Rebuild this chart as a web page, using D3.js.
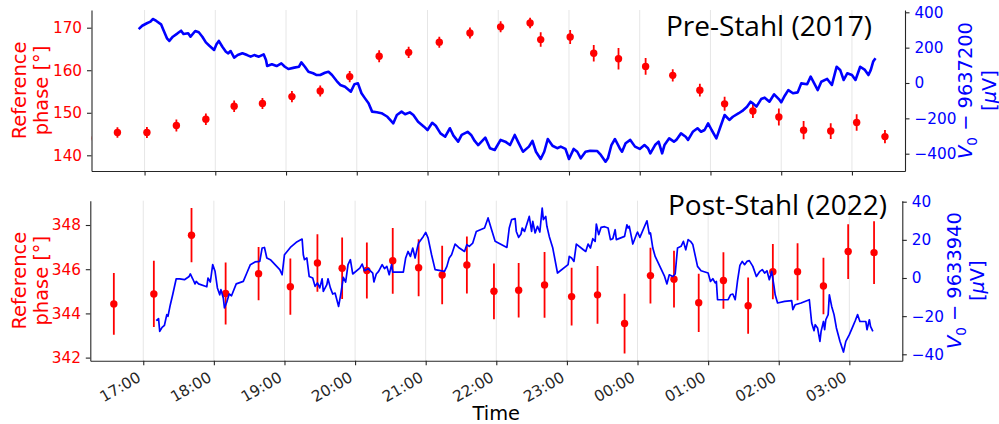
<!DOCTYPE html>
<html>
<head>
<meta charset="utf-8">
<script src="https://cdn.jsdelivr.net/npm/d3@7"></script>
<style>
  body { margin: 0; background: #fff; }
  svg { display: block; font-family: "DejaVu Sans", sans-serif; }
</style>
</head>
<body>
<svg id="chart" width="999" height="424"></svg>
<script>
// ---- data ----
const hourTicks = ["17:00", "18:00", "19:00", "20:00", "21:00", "22:00", "23:00", "00:00", "01:00", "02:00", "03:00"];
const timeSpan = ["16:15", "03:45"];

// Pre-Stahl (2017): reference phase with error bars
const preTimes = ["16:12", "16:37", "17:02", "17:27", "17:52", "18:16", "18:40", "19:05", "19:29", "19:54",
  "20:19", "20:44", "21:10", "21:36", "22:02", "22:27", "22:36", "23:01", "23:21", "23:42",
  "00:05", "00:28", "00:51", "01:12", "01:36", "01:58", "02:19", "02:42", "03:04", "03:28"];
const prePhase = [144.0, 145.35, 145.35, 147.0, 148.5, 151.55, 152.2, 153.8, 155.1, 158.5,
  163.3, 164.2, 166.6, 168.75, 170.2, 171.1, 167.2, 167.8, 164.0, 162.7,
  160.9, 158.8, 155.3, 152.1, 150.4, 149.0, 145.9, 145.7, 147.7, 144.4];
const preErr = [1.3, 1.25, 1.3, 1.4, 1.35, 1.35, 1.3, 1.3, 1.3, 1.3,
  1.4, 1.3, 1.3, 1.3, 1.3, 1.25, 1.7, 1.65, 1.95, 2.5,
  1.95, 1.45, 1.5, 1.65, 1.65, 2.0, 2.15, 1.85, 1.95, 1.55];

// Pre-Stahl (2017): V0 - 9637200 in uV
const preVTimes = ["16:55", "16:58", "17:02", "17:05", "17:07", "17:10", "17:14", "17:16", "17:19", "17:21",
  "17:24", "17:28", "17:31", "17:33", "17:37", "17:39", "17:43", "17:46", "17:49", "17:52",
  "17:55", "17:59", "18:01", "18:03", "18:06", "18:09", "18:11", "18:13", "18:16", "18:19",
  "18:23", "18:27", "18:30", "18:33", "18:37", "18:41", "18:43", "18:44", "18:48", "18:52",
  "18:56", "18:59", "19:02", "19:07", "19:11", "19:13", "19:16", "19:19", "19:23", "19:26",
  "19:29", "19:33", "19:36", "19:39", "19:43", "19:46", "19:50", "19:55", "19:58", "20:01",
  "20:04", "20:07", "20:10", "20:13", "20:17", "20:21", "20:26", "20:31", "20:34", "20:38",
  "20:41", "20:45", "20:48", "20:52", "20:57", "21:00", "21:04", "21:07", "21:11", "21:15",
  "21:19", "21:22", "21:26", "21:29", "21:34", "21:37", "21:40", "21:43", "21:49", "21:53",
  "21:57", "22:02", "22:06", "22:10", "22:14", "22:17", "22:21", "22:26", "22:29", "22:32",
  "22:36", "22:39", "22:42", "22:46", "22:50", "22:53", "22:57", "23:00", "23:04", "23:07",
  "23:10", "23:14", "23:18", "23:24", "23:27", "23:31", "23:33", "23:36", "23:39", "23:43",
  "23:45", "23:48", "23:52", "23:56", "00:00", "00:04", "00:07", "00:09", "00:13", "00:16",
  "00:19", "00:21", "00:25", "00:29", "00:31", "00:35", "00:39", "00:41", "00:45", "00:49",
  "00:52", "00:55", "00:58", "01:01", "01:05", "01:08", "01:12", "01:16", "01:19", "01:24",
  "01:27", "01:31", "01:34", "01:36", "01:39", "01:43", "01:46", "01:50", "01:54", "01:58",
  "02:00", "02:03", "02:06", "02:10", "02:14", "02:17", "02:22", "02:25", "02:28", "02:31",
  "02:34", "02:39", "02:43", "02:47", "02:50", "02:53", "02:56", "03:00", "03:03", "03:07",
  "03:11", "03:14", "03:16", "03:18", "03:20"];
const preV = [305, 324, 338, 347, 362, 351, 332, 300, 253, 238,
  262, 281, 296, 277, 281, 262, 294, 287, 262, 230,
  211, 187, 219, 238, 205, 177, 168, 181, 143, 158,
  168, 158, 149, 158, 149, 162, 130, 96, 106, 96,
  111, 92, 79, 87, 92, 117, 92, 64, 55, 45,
  45, 58, 64, 45, 11, -11, -21, -49, -7, -2,
  -58, -87, -115, -162, -166, -171, -191, -228, -181, -162,
  -177, -166, -181, -219, -247, -266, -225, -242, -285, -304,
  -256, -298, -332, -294, -276, -294, -328, -351, -309, -369,
  -379, -322, -332, -351, -294, -336, -389, -360, -328, -389,
  -430, -389, -317, -355, -369, -360, -373, -430, -373, -389,
  -426, -389, -383, -385, -407, -445, -426, -351, -317, -369,
  -389, -341, -322, -360, -373, -351, -369, -398, -351, -332,
  -398, -351, -313, -332, -322, -285, -304, -322, -276, -256,
  -276, -266, -228, -266, -313, -256, -181, -209, -191, -171,
  -158, -134, -106, -115, -134, -91, -83, -106, -64, -91,
  -109, -72, -40, -58, -53, -2, -7, 36, -2, -40,
  7, 23, -11, 92, 74, 17, 55, 45, 17, 92,
  74, 45, 74, 121, 140];

// Post-Stahl (2022): reference phase with error bars
const postTimes = ["16:35", "17:09", "17:41", "18:10", "18:38", "19:05", "19:28", "19:49", "20:10", "20:32",
  "20:54", "21:14", "21:35", "21:58", "22:19", "22:41", "23:04", "23:26", "23:49", "00:11",
  "00:31", "00:52", "01:13", "01:34", "01:55", "02:16", "02:38", "02:59", "03:21"];
const postPhase = [344.43, 344.88, 347.54, 344.9, 345.8, 345.21, 346.28, 346.04, 345.94, 346.38,
  346.07, 345.74, 346.19, 345.0, 345.05, 345.29, 344.76, 344.84, 343.54, 345.71,
  345.55, 344.48, 345.49, 344.35, 345.89, 345.89, 345.24, 346.8, 346.75];
const postErr = [1.4, 1.5, 1.23, 1.4, 1.2, 1.27, 1.3, 1.39, 1.27, 1.49,
  1.29, 1.32, 1.29, 1.26, 1.23, 1.49, 1.31, 1.31, 1.35, 1.26,
  1.28, 1.32, 1.28, 1.27, 1.25, 1.29, 1.28, 1.24, 1.42];

// Post-Stahl (2022): V0 - 9633940 in uV
const postVTimes = ["17:11", "17:13", "17:14", "17:16", "17:18", "17:20", "17:21", "17:23", "17:25", "17:28",
  "17:31", "17:35", "17:39", "17:40", "17:42", "17:44", "17:45", "17:47", "17:54", "17:55",
  "17:57", "17:59", "18:01", "18:03", "18:05", "18:06", "18:08", "18:09", "18:11", "18:13",
  "18:15", "18:19", "18:25", "18:28", "18:31", "18:35", "18:39", "18:41", "18:43", "18:45",
  "18:48", "18:52", "18:56", "18:58", "19:00", "19:05", "19:10", "19:15", "19:16", "19:17",
  "19:19", "19:21", "19:24", "19:26", "19:28", "19:30", "19:32", "19:33", "19:36", "19:37",
  "19:39", "19:41", "19:43", "19:46", "19:48", "19:50", "19:52", "19:54", "19:56", "19:58",
  "20:04", "20:06", "20:08", "20:11", "20:15", "20:16", "20:18", "20:20", "20:23", "20:25",
  "20:27", "20:29", "20:31", "20:32", "20:41", "20:43", "20:45", "20:47", "20:49", "20:51",
  "20:53", "20:54", "20:58", "21:00", "21:02", "21:05", "21:08", "21:16", "21:18", "21:20",
  "21:22", "21:25", "21:28", "21:33", "21:35", "21:37", "21:40", "21:43", "21:50", "21:53",
  "21:56", "21:59", "22:09", "22:11", "22:13", "22:16", "22:17", "22:19", "22:21", "22:22",
  "22:24", "22:28", "22:30", "22:31", "22:33", "22:35", "22:37", "22:39", "22:40", "22:42",
  "22:43", "22:45", "22:48", "22:52", "23:01", "23:02", "23:04", "23:06", "23:08", "23:14",
  "23:16", "23:18", "23:20", "23:22", "23:24", "23:25", "23:27", "23:29", "23:32", "23:35",
  "23:37", "23:39", "23:41", "23:42", "23:49", "23:51", "23:52", "23:53", "23:55", "23:56",
  "23:59", "00:00", "00:02", "00:08", "00:10", "00:11", "00:13", "00:15", "00:19", "00:23",
  "00:25", "00:27", "00:30", "00:32", "00:34", "00:37", "00:39", "00:41", "00:43", "00:45",
  "00:47", "00:51", "00:54", "01:00", "01:02", "01:04", "01:06", "01:07", "01:08", "01:17",
  "01:19", "01:21", "01:23", "01:25", "01:27", "01:29", "01:31", "01:33", "01:35", "01:38",
  "01:41", "01:44", "01:46", "01:48", "01:50", "01:52", "01:54", "01:56", "01:57", "01:59",
  "02:05", "02:11", "02:12", "02:14", "02:19", "02:26", "02:28", "02:30", "02:31", "02:33",
  "02:35", "02:36", "02:38", "02:39", "02:40", "02:42", "02:43", "02:45", "02:47", "02:49",
  "02:52", "02:55", "02:57", "03:00", "03:03", "03:05", "03:07", "03:09", "03:12", "03:14",
  "03:15", "03:17", "03:18", "03:20"];
const postV = [-22.4, -21.3, -28.0, -25.9, -24.8, -19.2, -20.1, -14.0, -8.8, -0.4,
  -0.5, -0.9, 0.8, 2.1, -0.4, -3.1, -1.8, -3.1, -4.6, 0,
  -2.1, 7.0, 3.5, -5.2, -8.8, -6.1, -10.5, -15.7, -12.6, -8.4,
  -9.3, -3.1, -1.8, 2.6, 7.0, 8.4, 8.7, 15.7, 16.0, 10.5,
  9.6, 7.0, 4.4, 1.7, 12.2, 16.0, 18.7, 20.4, 12.2, 9.6,
  10.5, 0.8, 0, -4.4, -2.6, -5.2, -0.4, -7.0, -3.5, -0.4,
  -5.2, -8.4, -7.9, -14.9, -7.9, 0.3, -2.1, 7.0, 9.6, 2.1,
  5.2, 7.3, 3.8, 4.9, 2.6, -2.1, 2.1, 3.5, 7.0, 4.9,
  6.1, 1.7, 7.0, 3.1, 3.1, 10.5, 13.9, 11.3, 15.7, 10.5,
  16.0, 18.3, 21.8, 23.9, 21.0, 12.2, 4.4, 3.5, 6.1, 10.5,
  12.2, 17.8, 16.0, 13.9, 17.5, 16.6, 18.3, 24.4, 26.2, 31.5,
  25.3, 19.2, 16.0, 26.2, 30.6, 31.1, 24.4, 21.3, 23.1, 26.2,
  24.4, 32.3, 24.4, 29.7, 23.6, 27.1, 24.1, 36.7, 30.6, 32.3,
  27.1, 21.8, 15.7, 2.6, 7.0, 11.3, 10.5, 8.7, 17.8, 14.8,
  13.9, 17.8, 15.7, 20.6, 19.2, 28.3, 22.7, 26.5, 26.9, 26.2,
  20.1, 20.6, 25.3, 20.1, 21.8, 27.9, 26.2, 27.1, 21.0, 17.8,
  22.7, 24.1, 21.3, 30.0, 23.1, 23.6, 15.7, 11.3, 6.1, 0.8,
  -3.1, 1.7, 0.8, 2.1, 15.7, 16.6, 19.2, 14.8, 20.1, 19.2,
  17.5, 6.1, 3.8, 2.6, -1.8, -0.4, -2.6, -1.8, -11.4, -11.4,
  -8.8, -8.4, -11.4, -1.4, 6.6, 8.7, 7.0, 8.7, 9.1, 6.1,
  0.8, 3.5, 4.4, 2.6, 3.8, -0.9, 3.5, -4.4, -8.8, -13.1,
  -12.3, -11.9, -16.6, -14.0, -13.1, -11.4, -23.6, -27.6, -24.5, -26.2,
  -33.2, -28.0, -22.8, -27.1, -21.9, -19.2, -8.8, -14.9, -19.2, -26.2,
  -33.2, -38.8, -33.2, -29.7, -25.4, -22.4, -19.2, -22.8, -22.8, -22.8,
  -27.1, -21.9, -25.4, -28.0];

const preTicks = [140, 150, 160, 170];
const preVTicks = [-400, -200, 0, 200, 400];
const postTicks = [342, 344, 346, 348];
const postVTicks = [-40, -20, 0, 20, 40];

// ---- helpers ----
// clock strings: evening hours belong to day 1, early morning hours to day 2
const clock = s => {
  const [h, m] = s.split(":").map(Number);
  return new Date(2000, 0, h < 12 ? 2 : 1, h, m);
};
const minus = d => (d < 0 ? "\u2212" + Math.abs(d) : String(d));

const RED = "#ff0000", BLUE = "#0000ff", INK = "#262626";
const svg = d3.select("#chart");

const panels = [
  {
    key: "pre", top: 10, bottom: 171, left: 91.5, right: 905,
    times: preTimes, phase: prePhase, err: preErr, vTimes: preVTimes, v: preV,
    yDomain: [136.31, 174.16], yTicks: preTicks,
    vDomain: [-497.9, 413], vTicks: preVTicks,
    title: "Pre-Stahl (2017)", titleX: 872, titleY: 36,
    offset: "9637200", rl: [972.3, 995.5], lineW: 2.6, xLabels: false
  },
  {
    key: "post", top: 200.7, bottom: 360.7, left: 90.3, right: 902.3,
    times: postTimes, phase: postPhase, err: postErr, vTimes: postVTimes, v: postV,
    yDomain: [341.86, 349.10], yTicks: postTicks,
    vDomain: [-43.36, 40.52], vTicks: postVTicks,
    title: "Post-Stahl (2022)", titleX: 887, titleY: 214.5,
    offset: "9633940", rl: [961.3, 984], lineW: 1.7, xLabels: true
  }
];

function styleAxis(g, textColor) {
  g.attr("font-size", null).attr("font-family", null);
  g.select(".domain").attr("stroke", INK).attr("stroke-width", 1.1);
  g.selectAll(".tick line").attr("stroke", INK).attr("stroke-width", 1.1);
  g.selectAll(".tick text").attr("fill", textColor).style("font-size", "15.3px");
}

panels.forEach(p => {
  const x = d3.scaleTime().domain(timeSpan.map(clock)).range([p.left, p.right]);
  const y = d3.scaleLinear().domain(p.yDomain).range([p.bottom, p.top]);
  const yv = d3.scaleLinear().domain(p.vDomain).range([p.bottom, p.top]);
  const tickDates = hourTicks.map(clock);

  svg.append("clipPath").attr("id", "clip-" + p.key)
    .append("rect")
    .attr("x", p.left).attr("y", p.top)
    .attr("width", p.right - p.left).attr("height", p.bottom - p.top);

  // vertical grid
  svg.append("g")
    .selectAll("line")
    .data(tickDates)
    .join("line")
      .attr("x1", d => x(d)).attr("x2", d => x(d))
      .attr("y1", p.top).attr("y2", p.bottom)
      .attr("stroke", "#e6e6e6").attr("stroke-width", 1);

  const plot = svg.append("g").attr("clip-path", `url(#clip-${p.key})`);

  const pts = p.times.map((t, i) => ({ t: clock(t), v: p.phase[i], e: p.err[i] }));

  plot.append("g")
    .selectAll("line")
    .data(pts)
    .join("line")
      .attr("x1", d => x(d.t)).attr("x2", d => x(d.t))
      .attr("y1", d => y(d.v - d.e)).attr("y2", d => y(d.v + d.e))
      .attr("stroke", RED).attr("stroke-width", 1.8);

  plot.append("g")
    .selectAll("circle")
    .data(pts)
    .join("circle")
      .attr("cx", d => x(d.t)).attr("cy", d => y(d.v))
      .attr("r", 3.7)
      .attr("fill", RED);

  const series = p.vTimes.map((t, i) => ({ t: clock(t), v: p.v[i] }));
  const line = d3.line().x(d => x(d.t)).y(d => yv(d.v));
  plot.append("path")
    .datum(series)
    .attr("d", line)
    .attr("fill", "none")
    .attr("stroke", BLUE)
    .attr("stroke-width", p.lineW)
    .attr("stroke-linejoin", "round");

  // axes
  const gx = svg.append("g")
    .attr("transform", `translate(0,${p.bottom})`)
    .call(d3.axisBottom(x).tickValues(tickDates).tickSize(4.5).tickSizeOuter(0).tickPadding(4.9)
      .tickFormat(p.xLabels ? d3.timeFormat("%H:%M") : () => ""));
  styleAxis(gx, INK);
  if (p.xLabels) {
    gx.selectAll(".tick text")
      .attr("y", null).attr("dy", null)
      .attr("text-anchor", "end")
      .attr("transform", "translate(-1.8,19.8) rotate(-30)");
  }

  const gl = svg.append("g")
    .attr("transform", `translate(${p.left},0)`)
    .call(d3.axisLeft(y).tickValues(p.yTicks).tickSize(4.5).tickSizeOuter(0).tickPadding(4.9)
      .tickFormat(minus));
  styleAxis(gl, RED);

  const gr = svg.append("g")
    .attr("transform", `translate(${p.right},0)`)
    .call(d3.axisRight(yv).tickValues(p.vTicks).tickSize(4.5).tickSizeOuter(0).tickPadding(4.9)
      .tickFormat(minus));
  styleAxis(gr, BLUE);

  // left label
  const cy = (p.top + p.bottom) / 2;
  const ll = svg.append("text")
    .attr("transform", `translate(0,${cy}) rotate(-90)`)
    .attr("text-anchor", "middle")
    .attr("fill", RED)
    .style("font-size", "19.4px");
  ll.append("tspan").attr("x", 0).attr("y", 25.5).text("Reference");
  ll.append("tspan").attr("x", 0).attr("y", 47.6).text("phase [\u00b0]");

  // right label: V_0 - offset  /  [muV]
  const rl = svg.append("text")
    .attr("transform", `translate(0,${cy}) rotate(-90)`)
    .attr("text-anchor", "middle")
    .attr("fill", BLUE)
    .style("font-size", "19.4px");
  rl.append("tspan").attr("x", 0).attr("y", p.rl[0]).attr("font-style", "italic").text("V");
  rl.append("tspan").attr("dy", 4.2).style("font-size", "13.6px").text("0");
  rl.append("tspan").attr("dy", -4.2).text(" \u2212 " + p.offset);
  rl.append("tspan").attr("x", 0).attr("y", p.rl[1]).text("[");
  rl.append("tspan").attr("font-style", "italic").text("\u03bc");
  rl.append("tspan").text("V]");

  // panel title
  svg.append("text")
    .attr("x", p.titleX).attr("y", p.titleY)
    .attr("text-anchor", "end")
    .attr("fill", "#000")
    .style("font-family", "'Open Sans', sans-serif")
    .style("font-size", "28px")
    .text(p.title);
});

svg.append("text")
  .attr("x", 496.3).attr("y", 420)
  .attr("text-anchor", "middle")
  .attr("fill", "#000")
  .style("font-size", "19.4px")
  .text("Time");
</script>
</body>
</html>
